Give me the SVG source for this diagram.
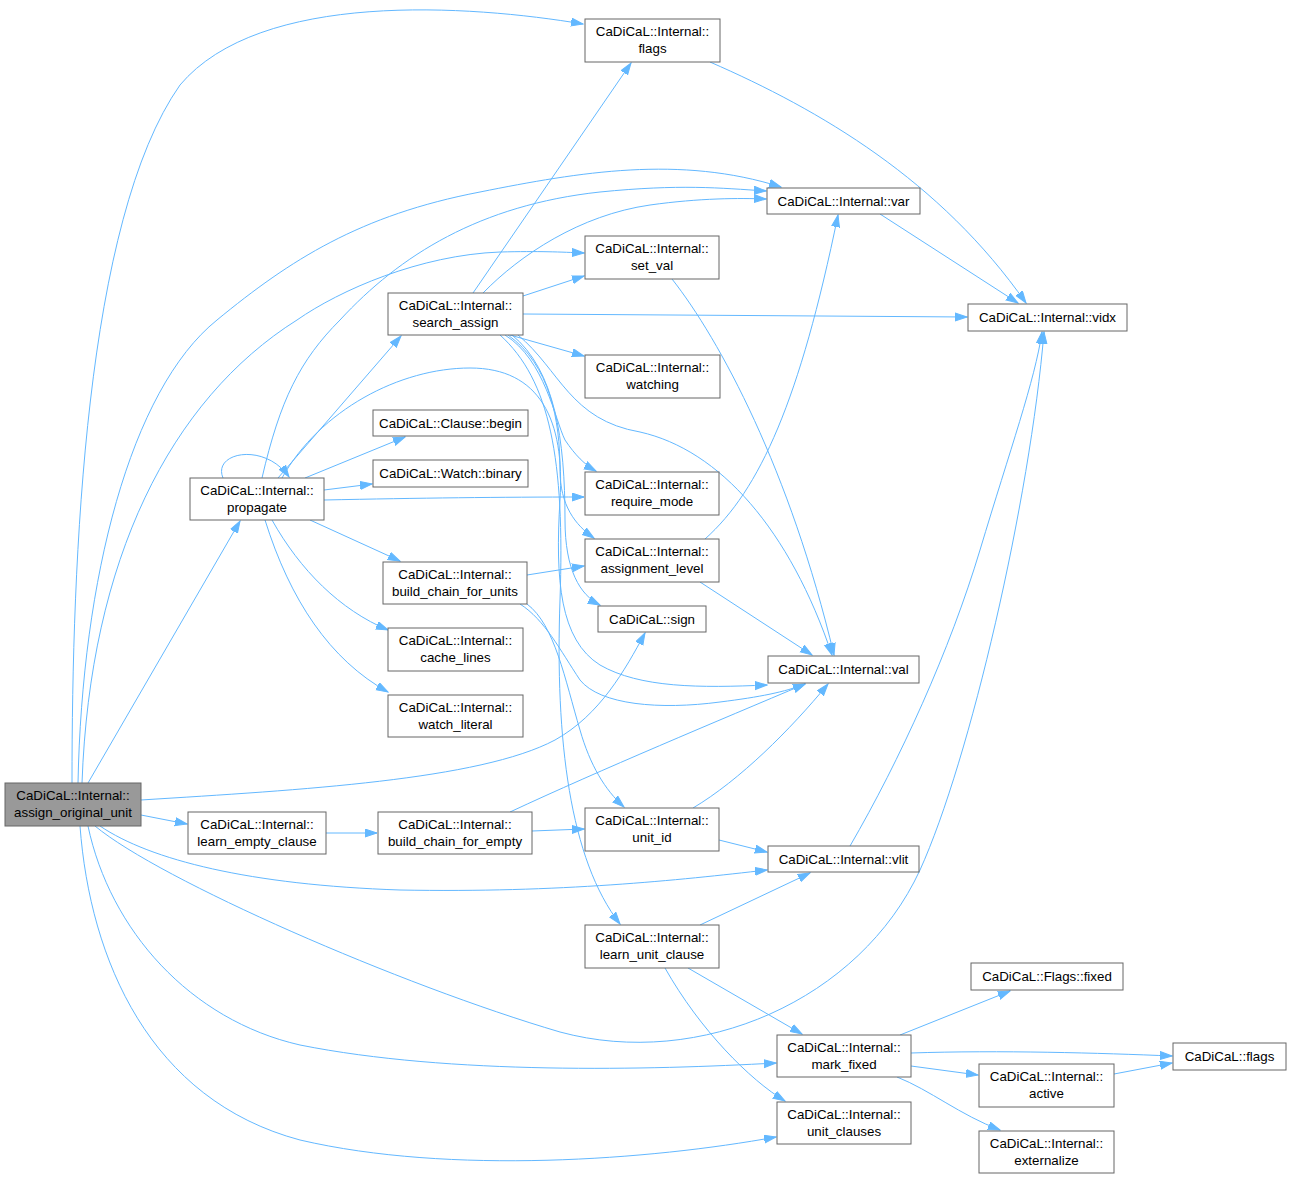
<svg xmlns="http://www.w3.org/2000/svg" width="1291" height="1179" viewBox="0 0 1291 1179">
<style>
.n rect{fill:#fff;stroke:#666;stroke-width:1}
.n.root rect{fill:#999}
.n text{font-family:"Liberation Sans",Arial,sans-serif;font-size:13.33px;text-anchor:middle;fill:#000}
.e path{fill:none;stroke:#63b8ff;stroke-width:1;marker-end:url(#ah)}
</style>
<defs>
<marker id="ah" markerWidth="13" markerHeight="10" refX="12" refY="4.5" orient="auto" markerUnits="userSpaceOnUse"><path d="M0,0.5 L12,4.5 L0,8.5 z" fill="#63b8ff" stroke="#63b8ff"/></marker>
</defs>
<rect width="1291" height="1179" fill="#fff"/>
<g class="e" id="edges">
<path d="M72,783 C72,560 85,220 180,85 C260,-10 470,5 583,24"/>
<path d="M78,783 C82,580 130,390 217,320 C290,260 360,215 480,192 C580,172 680,155 781,187"/>
<path d="M82,783 C90,560 170,400 297,320 C340,290 420,255 500,252 C540,251 560,252 584,253"/>
<path d="M88,783 L240,521"/>
<path d="M141,800 C300,790 480,780 555,740 C600,715 625,670 645,633"/>
<path d="M141,815 L187,824"/>
<path d="M100,826 C150,860 250,885 400,890 C560,893 680,880 767,870"/>
<path d="M95,826 C160,880 400,985 560,1032 C700,1070 860,1000 920,870 C970,760 1030,500 1044,332"/>
<path d="M88,826 C110,930 190,1020 300,1045 C450,1075 650,1070 776,1063"/>
<path d="M80,826 C90,960 150,1100 300,1140 C450,1175 650,1160 776,1137"/>
<path d="M262,478 C280,400 300,360 340,320 C400,255 480,205 600,192 C680,184 720,188 766,191"/>
<path d="M278,478 L401,336"/>
<path d="M282,478 C320,410 400,368 470,368 C540,368 565,420 560,500 C555,580 560,640 600,665 C640,688 700,688 767,685"/>
<path d="M223,478 C212,452 265,442 289,477"/>
<path d="M305,478 L405,437"/>
<path d="M324,490 L372,484"/>
<path d="M324,500 C420,498 500,497 584,497"/>
<path d="M310,520 L400,561"/>
<path d="M272,520 C300,570 340,610 388,630"/>
<path d="M265,520 C290,600 330,660 388,692"/>
<path d="M473,293 L631,63"/>
<path d="M483,293 C520,255 580,215 650,205 C700,198 740,198 766,199"/>
<path d="M523,296 L584,276"/>
<path d="M523,314 L967,317"/>
<path d="M510,335 L584,356"/>
<path d="M505,335 C545,360 555,420 565,440 C575,455 585,465 596,471"/>
<path d="M508,335 C550,365 560,420 560,470 C560,505 575,525 594,538"/>
<path d="M512,335 C555,370 565,440 565,520 C565,570 580,595 600,605"/>
<path d="M500,335 C550,380 565,460 560,600 C555,740 570,860 620,924"/>
<path d="M518,335 C560,370 570,420 640,432 C720,450 790,530 832,655"/>
<path d="M527,575 L584,566"/>
<path d="M520,604 C545,620 560,650 580,680 C600,705 660,710 720,702 C760,697 785,692 805,684"/>
<path d="M527,604 C555,625 565,680 580,730 C590,765 605,790 624,807"/>
<path d="M705,539 C760,490 800,400 838,215"/>
<path d="M700,582 L812,655"/>
<path d="M672,279 C720,340 790,470 834,655"/>
<path d="M880,214 L1018,303"/>
<path d="M710,62 C820,110 940,180 1026,303"/>
<path d="M850,846 C900,760 950,650 980,550 C1010,450 1035,380 1042,332"/>
<path d="M326,833 L377,833"/>
<path d="M532,831 L584,829"/>
<path d="M510,812 C600,770 720,720 805,684"/>
<path d="M693,808 C740,780 790,730 828,684"/>
<path d="M719,840 L767,852"/>
<path d="M700,925 L810,873"/>
<path d="M688,968 L802,1034"/>
<path d="M665,968 C700,1030 750,1080 785,1101"/>
<path d="M900,1035 L1010,991"/>
<path d="M911,1053 C1000,1050 1100,1053 1172,1056"/>
<path d="M911,1066 L978,1075"/>
<path d="M897,1077 C930,1090 960,1115 1000,1130"/>
<path d="M1114,1074 L1172,1063"/>
</g>
<g class="n root" id="n_aou"><rect x="5" y="783" width="136" height="43"/><text x="73" y="800">CaDiCaL::Internal::</text><text x="73" y="817">assign_original_unit</text></g>
<g class="n" id="n_flags_int"><rect x="585" y="19" width="135" height="43"/><text x="652.5" y="36">CaDiCaL::Internal::</text><text x="652.5" y="53">flags</text></g>
<g class="n" id="n_var"><rect x="767" y="188" width="153" height="26"/><text x="843.5" y="205.5">CaDiCaL::Internal::var</text></g>
<g class="n" id="n_vidx"><rect x="968" y="304" width="159" height="27"/><text x="1047.5" y="322">CaDiCaL::Internal::vidx</text></g>
<g class="n" id="n_set_val"><rect x="585" y="236" width="134" height="43"/><text x="652" y="253">CaDiCaL::Internal::</text><text x="652" y="270">set_val</text></g>
<g class="n" id="n_search_assign"><rect x="388" y="293" width="135" height="42"/><text x="455.5" y="310">CaDiCaL::Internal::</text><text x="455.5" y="327">search_assign</text></g>
<g class="n" id="n_watching"><rect x="585" y="355" width="135" height="43"/><text x="652.5" y="372">CaDiCaL::Internal::</text><text x="652.5" y="389">watching</text></g>
<g class="n" id="n_begin"><rect x="373" y="410" width="155" height="26"/><text x="450.5" y="427.5">CaDiCaL::Clause::begin</text></g>
<g class="n" id="n_binary"><rect x="373" y="460" width="155" height="27"/><text x="450.5" y="478">CaDiCaL::Watch::binary</text></g>
<g class="n" id="n_propagate"><rect x="190" y="478" width="134" height="42"/><text x="257" y="495">CaDiCaL::Internal::</text><text x="257" y="512">propagate</text></g>
<g class="n" id="n_require_mode"><rect x="585" y="472" width="134" height="43"/><text x="652" y="489">CaDiCaL::Internal::</text><text x="652" y="506">require_mode</text></g>
<g class="n" id="n_assignment_level"><rect x="585" y="539" width="134" height="43"/><text x="652" y="556">CaDiCaL::Internal::</text><text x="652" y="573">assignment_level</text></g>
<g class="n" id="n_sign"><rect x="598" y="606" width="108" height="26"/><text x="652" y="623.5">CaDiCaL::sign</text></g>
<g class="n" id="n_bcfu"><rect x="383" y="562" width="144" height="42"/><text x="455" y="579">CaDiCaL::Internal::</text><text x="455" y="596">build_chain_for_units</text></g>
<g class="n" id="n_cache_lines"><rect x="388" y="628" width="135" height="43"/><text x="455.5" y="645">CaDiCaL::Internal::</text><text x="455.5" y="662">cache_lines</text></g>
<g class="n" id="n_watch_literal"><rect x="388" y="695" width="135" height="42"/><text x="455.5" y="712">CaDiCaL::Internal::</text><text x="455.5" y="729">watch_literal</text></g>
<g class="n" id="n_val"><rect x="768" y="656" width="151" height="27"/><text x="843.5" y="674">CaDiCaL::Internal::val</text></g>
<g class="n" id="n_learn_empty"><rect x="188" y="812" width="138" height="42"/><text x="257" y="829">CaDiCaL::Internal::</text><text x="257" y="846">learn_empty_clause</text></g>
<g class="n" id="n_bcfe"><rect x="378" y="812" width="154" height="42"/><text x="455" y="829">CaDiCaL::Internal::</text><text x="455" y="846">build_chain_for_empty</text></g>
<g class="n" id="n_unit_id"><rect x="585" y="808" width="134" height="43"/><text x="652" y="825">CaDiCaL::Internal::</text><text x="652" y="842">unit_id</text></g>
<g class="n" id="n_vlit"><rect x="768" y="846" width="151" height="26"/><text x="843.5" y="864">CaDiCaL::Internal::vlit</text></g>
<g class="n" id="n_learn_unit"><rect x="585" y="925" width="134" height="43"/><text x="652" y="942">CaDiCaL::Internal::</text><text x="652" y="959">learn_unit_clause</text></g>
<g class="n" id="n_mark_fixed"><rect x="777" y="1035" width="134" height="42"/><text x="844" y="1052">CaDiCaL::Internal::</text><text x="844" y="1069">mark_fixed</text></g>
<g class="n" id="n_unit_clauses"><rect x="777" y="1102" width="134" height="42"/><text x="844" y="1119">CaDiCaL::Internal::</text><text x="844" y="1136">unit_clauses</text></g>
<g class="n" id="n_flags_fixed"><rect x="971" y="963" width="152" height="27"/><text x="1047" y="981">CaDiCaL::Flags::fixed</text></g>
<g class="n" id="n_active"><rect x="979" y="1064" width="135" height="43"/><text x="1046.5" y="1081">CaDiCaL::Internal::</text><text x="1046.5" y="1098">active</text></g>
<g class="n" id="n_externalize"><rect x="979" y="1131" width="135" height="42"/><text x="1046.5" y="1148">CaDiCaL::Internal::</text><text x="1046.5" y="1165">externalize</text></g>
<g class="n" id="n_cflags"><rect x="1173" y="1043" width="113" height="27"/><text x="1229.5" y="1061">CaDiCaL::flags</text></g>
</svg>
